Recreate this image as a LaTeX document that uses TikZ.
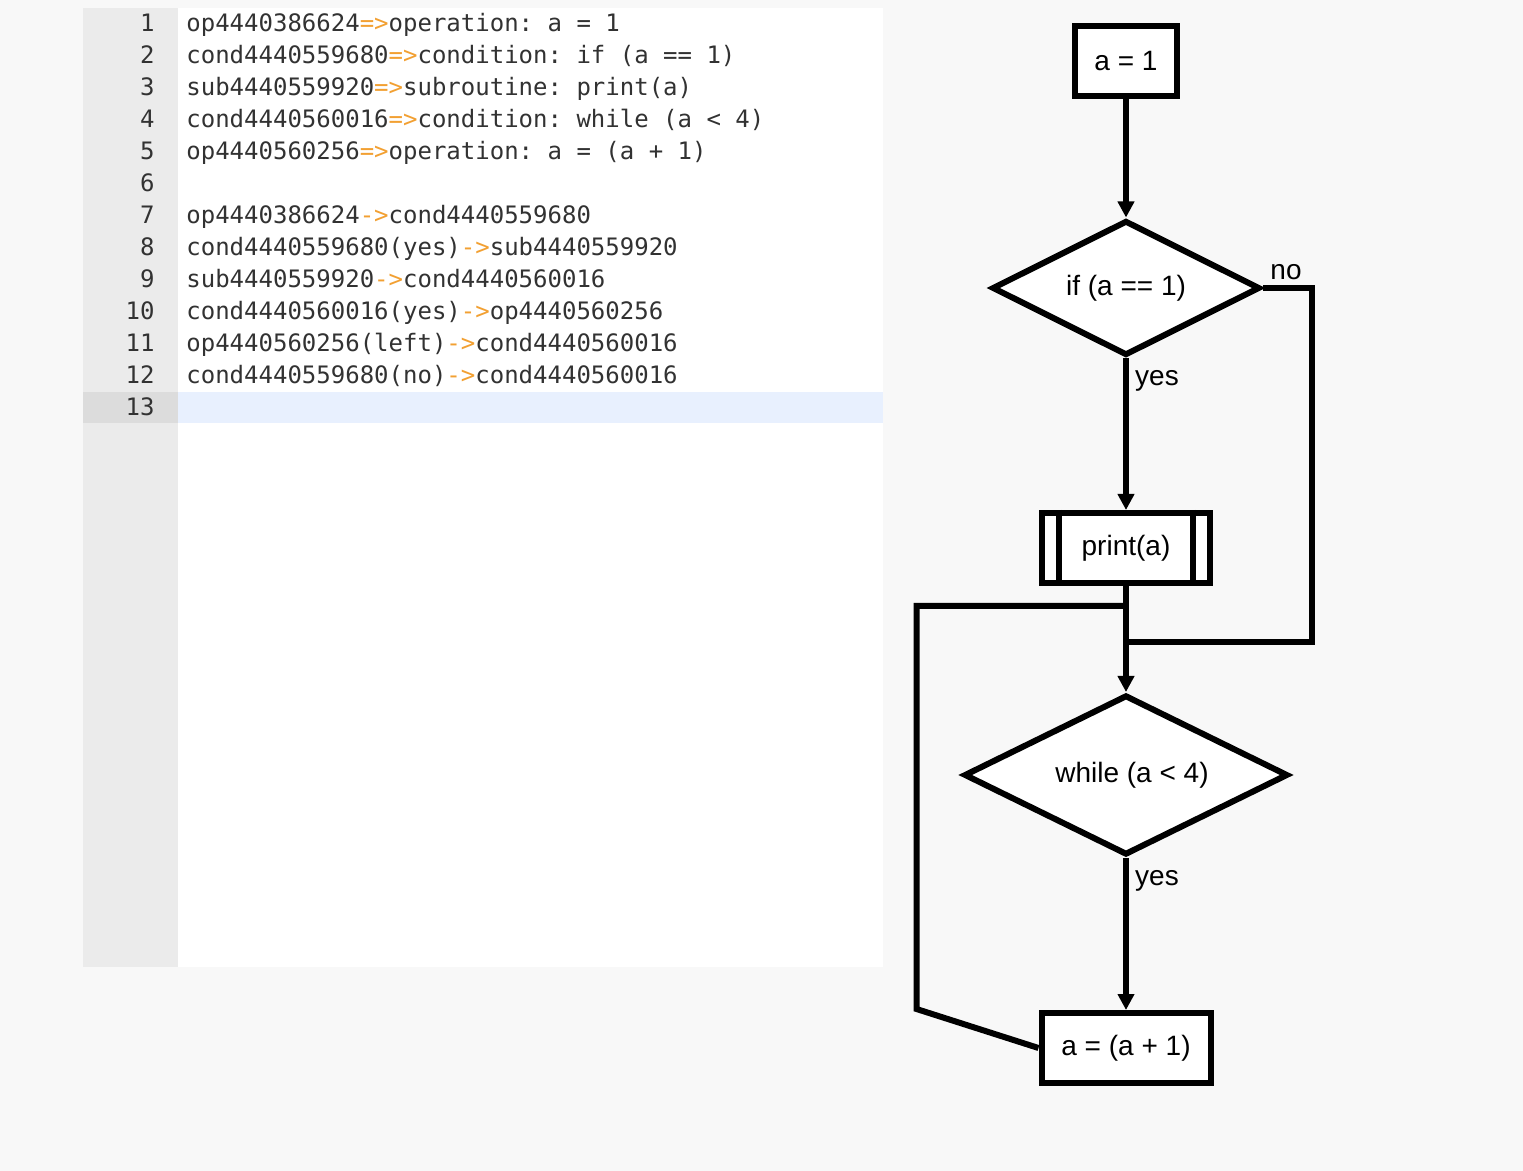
\documentclass[tikz,border=0pt]{standalone}
\usepackage{fontspec}
\setmainfont{Liberation Sans}
\newfontfamily\codefont{DejaVu Sans Mono}
\usepackage{tikz}
\usetikzlibrary{
  arrows.meta,      % Triangle 箭头
  shapes.geometric  % 菱形判断框
}
\definecolor{bgc}{RGB}{248,248,248}
\definecolor{gutterc}{RGB}{235,235,235}
\definecolor{gutterhl}{RGB}{220,220,220}
\definecolor{linehl}{RGB}{232,240,254}
\definecolor{codec}{RGB}{50,50,50}
\definecolor{arrowc}{RGB}{242,160,50}
\newcommand{\defsep}{\textcolor{arrowc}{=>}}
\newcommand{\linksep}{\textcolor{arrowc}{->}}
\frenchspacing

\begin{document}
\begin{tikzpicture}[x=0.5pt, y=-0.5pt,
  code/.style={anchor=base west, inner sep=0pt, text=codec,
    font=\codefont\fontsize{12}{14}\selectfont},
  lnum/.style={anchor=base east, inner sep=0pt, text=codec,
    font=\codefont\fontsize{12}{14}\selectfont},
  opbox/.style={draw, rectangle, line width=3pt, fill=white,
    minimum width=51pt, minimum height=35pt, inner sep=0pt,
    font=\fontsize{14}{16}\selectfont},
  condbox/.style={draw, diamond, aspect=2, line width=3pt, fill=white,
    inner sep=0pt, font=\fontsize{14}{16}\selectfont},
  subbox/.style={opbox, minimum width=84pt},
  flowlabel/.style={inner sep=0pt, font=\fontsize{14}{16}\selectfont},
  flow/.style={line width=3pt, -{Triangle[width=8pt, length=8pt]}},
  loopline/.style={line width=3pt}]
  % 背景与边界
  \fill[bgc] (0,0) rectangle (1523,1171);
  \useasboundingbox (0,0) rectangle (1523,1171);

  % 代码编辑区
  \fill[white] (178,8) rectangle (883,967);
  \fill[gutterc] (83,8) rectangle (178,967);
  \fill[gutterhl] (83,392) rectangle (178,423);
  \fill[linehl] (178,392) rectangle (883,423);

  % 行号
  \node[lnum] (n1) at (155,32) {1};
  \node[lnum] (n2) at (155,64) {2};
  \node[lnum] (n3) at (155,96) {3};
  \node[lnum] (n4) at (155,128) {4};
  \node[lnum] (n5) at (155,160) {5};
  \node[lnum] (n6) at (155,192) {6};
  \node[lnum] (n7) at (155,224) {7};
  \node[lnum] (n8) at (155,256) {8};
  \node[lnum] (n9) at (155,288) {9};
  \node[lnum] (n10) at (155,320) {10};
  \node[lnum] (n11) at (155,352) {11};
  \node[lnum] (n12) at (155,384) {12};
  \node[lnum] (n13) at (155,416) {13};

  % 代码行（定义）
  \node[code] (c1) at (186,32) {op4440386624\defsep operation: a = 1};
  \node[code] (c2) at (186,64) {cond4440559680\defsep condition: if (a == 1)};
  \node[code] (c3) at (186,96) {sub4440559920\defsep subroutine: print(a)};
  \node[code] (c4) at (186,128) {cond4440560016\defsep condition: while (a < 4)};
  \node[code] (c5) at (186,160) {op4440560256\defsep operation: a = (a + 1)};

  % 代码行（连接）
  \node[code] (c7) at (186,224) {op4440386624\linksep cond4440559680};
  \node[code] (c8) at (186,256) {cond4440559680(yes)\linksep sub4440559920};
  \node[code] (c9) at (186,288) {sub4440559920\linksep cond4440560016};
  \node[code] (c10) at (186,320) {cond4440560016(yes)\linksep op4440560256};
  \node[code] (c11) at (186,352) {op4440560256(left)\linksep cond4440560016};
  \node[code] (c12) at (186,384) {cond4440559680(no)\linksep cond4440560016};

  % 流程图节点
  \node[opbox] (op1) at (1126,61) {a = 1};
  \node[condbox, minimum width=134pt, minimum height=67.5pt] (cond1) at (1126,288) {if (a == 1)};
  \node[subbox] (sub1) at (1126,548) {print(a)};
  \draw[line width=3pt] ([xshift=10pt]sub1.north west) -- ([xshift=10pt]sub1.south west);
  \draw[line width=3pt] ([xshift=-10pt]sub1.north east) -- ([xshift=-10pt]sub1.south east);
  \node[condbox, minimum width=162pt, minimum height=80pt] (cond2) at (1126,775) {\hspace*{6pt}while (a < 4)};
  \node[opbox, minimum width=84.5pt] (op2) at (1126,1048) {a = (a + 1)};

  % 连线
  \draw[flow] (op1.south) -- (cond1.north);
  \draw[flow] (cond1.south) -- (sub1.north);
  \draw[flow] (sub1.south) -- (cond2.north);
  \draw[loopline] (cond1.east) -- ++(24.5pt,0) |- ([yshift=25pt]cond2.north);
  \draw[flow] (cond2.south) -- (op2.north);
  \draw[loopline] (op2.west) -- ++(-61pt,19.5pt) |- ([yshift=-10pt]sub1.south);

  % 分支标签
  \node[flowlabel] (yes1) at (1157,381) {yes};
  \node[flowlabel] (no1) at (1286,272) {no};
  \node[flowlabel] (yes2) at (1157,881) {yes};
\end{tikzpicture}
\end{document}
